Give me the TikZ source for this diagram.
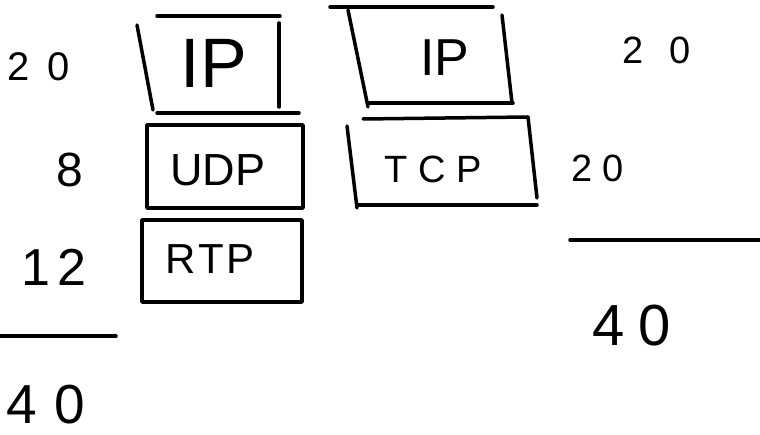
\documentclass[tikz,border=0pt]{standalone}
\usepackage{fontspec}
\setmainfont{Liberation Sans}
\newcommand{\fs}[1]{\fontsize{#1}{#1}\selectfont}
\newcommand{\gp}[1]{\hspace{#1pt}}
\begin{document}
\begin{tikzpicture}[x=1pt,y=-1pt,
  pen/.style={line width=3.5pt,line cap=round,line join=round},
  lbl/.style={inner sep=0pt,anchor=center}]
\useasboundingbox (0,0) rectangle (760,435);
% left IP (open strokes)
\draw[pen] (157,16) -- (280,16);
\draw[pen] (137,25) -- (153,110);
\draw[pen] (279,23) -- (279,107);
\draw[pen] (157,113) -- (299,113);
\node[lbl] (ip1) at (214,63) {\fs{70}IP};
% UDP
\draw[pen] (147,125) rectangle (303,208);
\node[lbl] (udp) at (218,170) {\fs{45}UDP};
% RTP
\draw[pen] (142,220) rectangle (302,302);
\node[lbl] (rtp) at (210,259) {\fs{42}R\gp{3}T\gp{3}P};
% right IP
\draw[pen] (330,7) -- (493,7);
\draw[pen] (348,10) -- (368,107);
\draw[pen] (502,15) -- (512,103);
\draw[pen] (369,103) -- (513,103);
\node[lbl] (ip2) at (445,58) {\fs{52}IP};
% TCP
\draw[pen] (363,119) -- (528,117);
\draw[pen] (347,126) -- (357,208);
\draw[pen] (528,117) -- (537,198);
\draw[pen] (357,205) -- (537,205);
\node[lbl] (tcp) at (433,169) {\fs{38}T\gp{11}C\gp{11}P};
% left numbers
\node[lbl] (l20) at (39,67) {\fs{40}2\gp{18}0};
\node[lbl] (l8) at (70,170) {\fs{48}8};
\node[lbl] (l12) at (54,267) {\fs{52}1\gp{8}2};
\draw[pen] (0,336) -- (116,336);
\node[lbl] (l40) at (46,405) {\fs{55}4\gp{18}0};
% right numbers
\node[lbl] (r20a) at (657,50) {\fs{38}2\gp{26}0};
\node[lbl] (r20b) at (598,168) {\fs{38}2\gp{10}0};
\draw[pen] (570,240) -- (760,240);
\node[lbl] (r40) at (632,326) {\fs{58}4\gp{14}0};
\end{tikzpicture}
\end{document}
